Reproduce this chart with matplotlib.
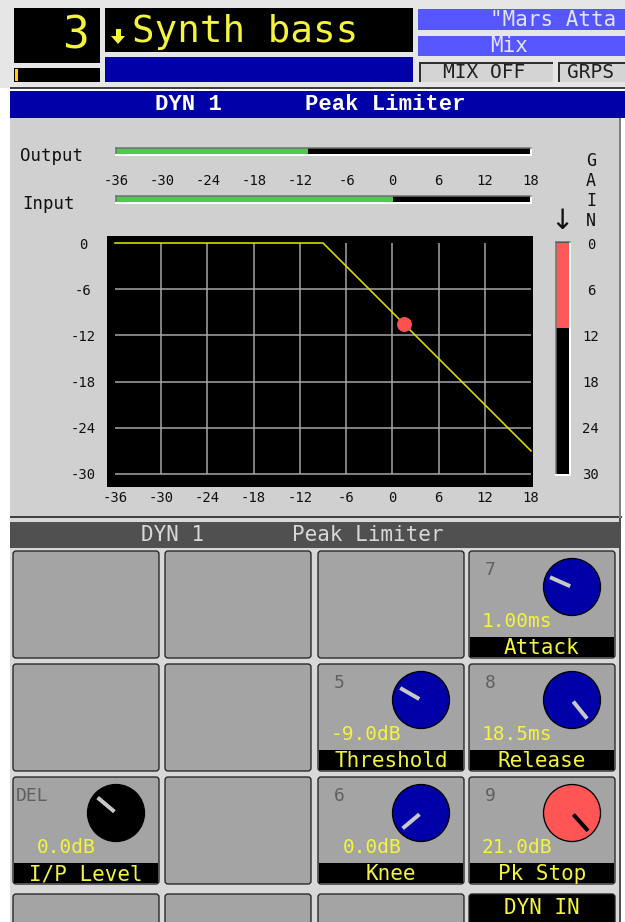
import matplotlib
matplotlib.use('Agg')
import matplotlib.pyplot as plt
from matplotlib.patches import Rectangle, FancyBboxPatch, Circle, Polygon
import numpy as np

# ---------------- data ----------------
meter_ticks = [-36, -30, -24, -18, -12, -6, 0, 6, 12, 18]
out_ticks = [0, -6, -12, -18, -24, -30]
gain_ticks = [0, 6, 12, 18, 24, 30]
curve_in = [-36, -9, 18]
curve_out = [0, 0, -27]
point_in, point_out = 1.5, -10.5
output_level = -11.0
input_level = 0.0
gain_reduction = 11.0

knob_names = ["Attack", "Threshold", "Release", "I/P Level", "Knee", "Pk Stop"]
knob_values = ["1.00ms", "-9.0dB", "18.5ms", "0.0dB", "0.0dB", "21.0dB"]
knob_ids = ["7", "5", "8", "DEL", "6", "9"]
knob_angles = [156, 150, -51, 140, -140, -48]
knob_colors = ["#0000a8", "#0000a8", "#0000a8", "#000000", "#0000a8", "#ff5555"]
knob_cells = [(3, 0), (2, 1), (3, 1), (0, 2), (2, 2), (3, 2)]

# ---------------- figure ----------------
W, H = 625, 922
fig = plt.figure(figsize=(W / 100, H / 100), dpi=100, facecolor='#ffffff')
cv = fig.add_axes([0, 0, 1, 1])
cv.set_xlim(0, W)
cv.set_ylim(H, 0)
cv.axis('off')

MONO = 'DejaVu Sans Mono'
YEL = '#f4f43c'
PX = 0.72  # points per pixel


def pax(x, y, w, h):
    return fig.add_axes([x / W, 1 - (y + h) / H, w / W, h / H])


def rect(x, y, w, h, fc, ec='none', lw=0, z=1):
    cv.add_patch(Rectangle((x, y), w, h, fc=fc, ec=ec, lw=lw, zorder=z))


def txt(x, y, s, size=12, color='k', ha='left', va='center', **kw):
    kw.setdefault('family', MONO)
    cv.text(x, y, s, fontsize=size, color=color, ha=ha, va=va, zorder=5, **kw)


# ---------- top header ----------
rect(0, 0, W, 88, '#e6e6e6')
rect(14, 8, 86, 55, 'k', z=2)
txt(76, 36, "3", size=32, color=YEL, ha='center')
rect(14, 68, 86, 14, 'k', z=2)
rect(15, 69, 3, 12, '#ffd200', z=3)

rect(105, 8, 308, 44, 'k', z=2)
cv.add_patch(Rectangle((115.5, 29), 5, 8, fc=YEL, ec='none', zorder=4))
cv.add_patch(Polygon([(111, 36), (125, 36), (118, 44)], closed=True, fc=YEL, ec='none', zorder=4))
txt(132, 32, "Synth bass", size=27, color=YEL)
rect(105, 57, 308, 25, '#0000a8', z=2)

rect(418, 9, 207, 21, '#5656ff', z=2)
txt(490, 20, '"Mars Atta', size=15, color='#e4e4ff')
rect(418, 36, 207, 20, '#5656ff', z=2)
txt(509, 46, "Mix", size=15, color='#e4e4ff', ha='center')
for bx, bw in [(419, 134), (558, 67)]:
    rect(bx, 62, bw, 20, '#d4d4d4', z=2)
    rect(bx, 62, bw, 2, '#303030', z=3)
    rect(bx, 62, 2, 20, '#303030', z=3)
txt(484, 72, "MIX OFF", size=14, color='#202020', ha='center')
txt(567, 72, "GRPS", size=14, color='#202020')

rect(10, 87, 615, 2, '#404040', z=2)

# ---------- upper panel ----------
rect(10, 91, 615, 27, '#0000a8', z=2)
txt(188, 105, "DYN 1", size=16, color='white', ha='center', family='Liberation Mono', weight='bold')
txt(385, 105, "Peak Limiter", size=16, color='white', ha='center', family='Liberation Mono', weight='bold')
rect(10, 118, 610, 399, '#d0d0d0', z=1)
rect(10, 516, 612, 2, '#404040', z=2)
rect(619, 118, 2, 400, '#808080', z=2)

txt(20, 156, "Output", size=12.5, color='#101010')
txt(22, 204, "Input", size=12.5, color='#101010')
txt(591, 191, "G\nA\nI\nN", size=12, color='#101010', ha='center', linespacing=1.15)
cv.text(562, 221, "\u2193", fontsize=20, color='#101010', ha='center', va='center',
        family='DejaVu Sans', zorder=5)


def style_meter(ax):
    ax.set_facecolor('black')
    for s in ['top', 'left']:
        ax.spines[s].set_color('#707070')
        ax.spines[s].set_linewidth(1.5 * PX)
    for s in ['bottom', 'right']:
        ax.spines[s].set_color('white')
        ax.spines[s].set_linewidth(2 * PX)


# output meter
ax_o = pax(116, 148, 415, 7)
ax_o.barh(0, output_level - (-36), left=-36, height=1.2, color='#50c850')
ax_o.set_xlim(-35.87, 18.0)
ax_o.set_ylim(-0.5, 0.5)
ax_o.set_xticks([])
ax_o.set_yticks([])
style_meter(ax_o)

# input meter
ax_i = pax(116, 196, 415, 7)
ax_i.barh(0, input_level - (-36), left=-36, height=1.2, color='#50c850')
ax_i.set_xlim(-35.87, 18.0)
ax_i.set_ylim(-0.5, 0.5)
ax_i.set_yticks([])
ax_i.set_xticks(meter_ticks)
ax_i.set_xticklabels([str(t) for t in meter_ticks], family=MONO, fontsize=10, color='#101010')
ax_i.tick_params(axis='x', top=True, labeltop=True, bottom=False, labelbottom=False, length=0, pad=6)
style_meter(ax_i)

# transfer chart
ax = pax(107, 236, 426, 251)
ax.set_facecolor('black')
ax.set_xlim(-37.04, 18.26)
ax.set_ylim(-31.69, 0.91)
for s in ax.spines.values():
    s.set_visible(False)
grid_x = [t for t in meter_ticks if -36 < t < 18]
grid_y = [t for t in out_ticks if t < 0]
ax.vlines(grid_x, -30, 0, color='#a8a8a8', lw=1.5 * PX, zorder=1)
ax.hlines(grid_y, -36, 18, color='#a8a8a8', lw=1.5 * PX, zorder=1)
ax.plot(curve_in, curve_out, color='#e0e000', lw=1.6 * PX, zorder=2)
ax.scatter([point_in], [point_out], s=115, color='#ff5050', zorder=3, linewidths=0)
ax.set_xticks(meter_ticks)
ax.set_xticklabels([str(t) for t in meter_ticks], family=MONO, fontsize=10, color='#101010')
ax.set_yticks(out_ticks)
ax.set_yticklabels([str(t) for t in out_ticks], family=MONO, fontsize=10, color='#101010', ha='center')
ax.tick_params(axis='x', length=0, pad=3)
ax.tick_params(axis='y', length=0, pad=17)

# gain meter
ax_g = pax(556, 242, 14, 233)
ax_g.bar(0, gain_reduction, bottom=0, width=1.2, color='#ff5858')
ax_g.set_xlim(-0.5, 0.5)
ax_g.set_ylim(30.13, -0.13)
ax_g.set_xticks([])
ax_g.yaxis.tick_right()
ax_g.set_yticks(gain_ticks)
ax_g.set_yticklabels([str(t) for t in gain_ticks], family=MONO, fontsize=10, color='#101010', ha='center')
ax_g.tick_params(axis='y', length=0, pad=15)
style_meter(ax_g)

# ---------- lower panel ----------
rect(10, 518, 610, 404, '#d8d8d8', z=1)
rect(619, 518, 2, 404, '#505050', z=2)
rect(10, 522, 610, 26, '#505050', z=2)
txt(173, 535, "DYN 1", size=15, color='#d8d8d8', ha='center')
txt(368, 535, "Peak Limiter", size=15, color='#d8d8d8', ha='center')

col_x = [13, 165, 318, 469]
row_y = [551, 664, 777, 894]
BW, BH = 146, 107

for r in range(4):
    for c in range(4):
        x, y = col_x[c], row_y[r]
        h = BH if r < 3 else 40
        fc = 'black' if (r == 3 and c == 3) else '#a4a4a4'
        cv.add_patch(FancyBboxPatch((x, y), BW, h, boxstyle='round,pad=0,rounding_size=3',
                                    fc=fc, ec='#202020', lw=1.3 * PX, zorder=2))
txt(col_x[3] + BW / 2, 908, "DYN IN", size=15, color=YEL, ha='center')

for name, val, kid, ang, col, (c, r) in zip(knob_names, knob_values, knob_ids,
                                             knob_angles, knob_colors, knob_cells):
    x, y = col_x[c], row_y[r]
    rect(x + 1, y + 86, BW - 2, 20, 'black', z=3)
    txt(x + BW / 2, y + 97, name, size=15, color=YEL, ha='center')
    if kid == "DEL":
        txt(x + 3, y + 19, kid, size=13, color='#606060')
    else:
        txt(x + 21, y + 19, kid, size=13, color='#606060', ha='center')
    txt(x + 83, y + 70, val, size=14, color=YEL, ha='right')
    cx, cy = x + 103, y + 36
    cv.add_patch(Circle((cx, cy), 28.5, fc=col, ec='black', lw=1.3 * PX, zorder=3))
    a = np.deg2rad(ang)
    dx, dy = np.cos(a), -np.sin(a)
    pc = 'black' if col == '#ff5555' else '#c8c8c8'
    cv.plot([cx + 2 * dx, cx + 24 * dx], [cy + 2 * dy, cy + 24 * dy], color=pc,
            lw=4 * PX, solid_capstyle='butt', zorder=4)

fig.savefig('out.png', dpi=100, facecolor=fig.get_facecolor())
